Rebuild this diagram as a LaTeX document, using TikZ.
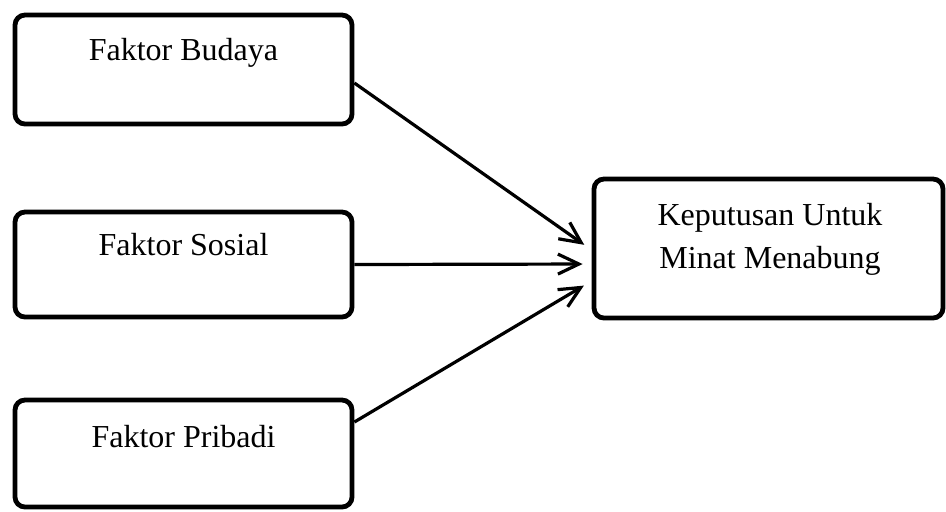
\documentclass[tikz,border=0pt]{standalone}
\usepackage{fontspec}
\setmainfont{Liberation Serif}
\usetikzlibrary{arrows, arrows.meta}
\usetikzlibrary{calc}

\begin{document}
\begin{tikzpicture}[x=0.5pt, y=-0.5pt,
    faktor/.style={draw, line width=2.4pt, rounded corners=5pt, inner sep=0pt, minimum width=168.5pt},
    teks/.style={inner sep=0pt, font=\fontsize{16}{21.5}\selectfont},
    panah/.style={line width=1.6pt, -{Straight Barb[length=10.5pt, width=10pt]}, shorten >=4.5pt}]
    \useasboundingbox (0,0) rectangle (946,511);

    \node[faktor, minimum height=54.5pt] (budaya) at (183.5,69.5) {};
    \node[faktor, minimum height=52.5pt] (sosial) at (183.5,264.5) {};
    \node[faktor, minimum height=53.5pt] (pribadi) at (183.5,453.5) {};
    \node[faktor, minimum width=174.5pt, minimum height=69.5pt] (keputusan) at (768.5,248.5) {};

    \node[teks, anchor=base] (t1) at (183.5,60) {Faktor Budaya};
    \node[teks, anchor=base] (t2) at (183.5,255) {Faktor Sosial};
    \node[teks, anchor=base] (t3) at (183.5,447) {Faktor Pribadi};
    \node[teks, align=center] (t4) at (770,239) {Keputusan Untuk\\Minat Menabung};

    \draw[panah] ([yshift=-6.75pt]budaya.east) -- ([yshift=-0.75pt]keputusan.west);
    \draw[panah] (sosial.east) -- ([yshift=-7.75pt]keputusan.west);
    \draw[panah] ([yshift=15.75pt]pribadi.east) -- ([yshift=-16.25pt]keputusan.west);
\end{tikzpicture}
\end{document}
